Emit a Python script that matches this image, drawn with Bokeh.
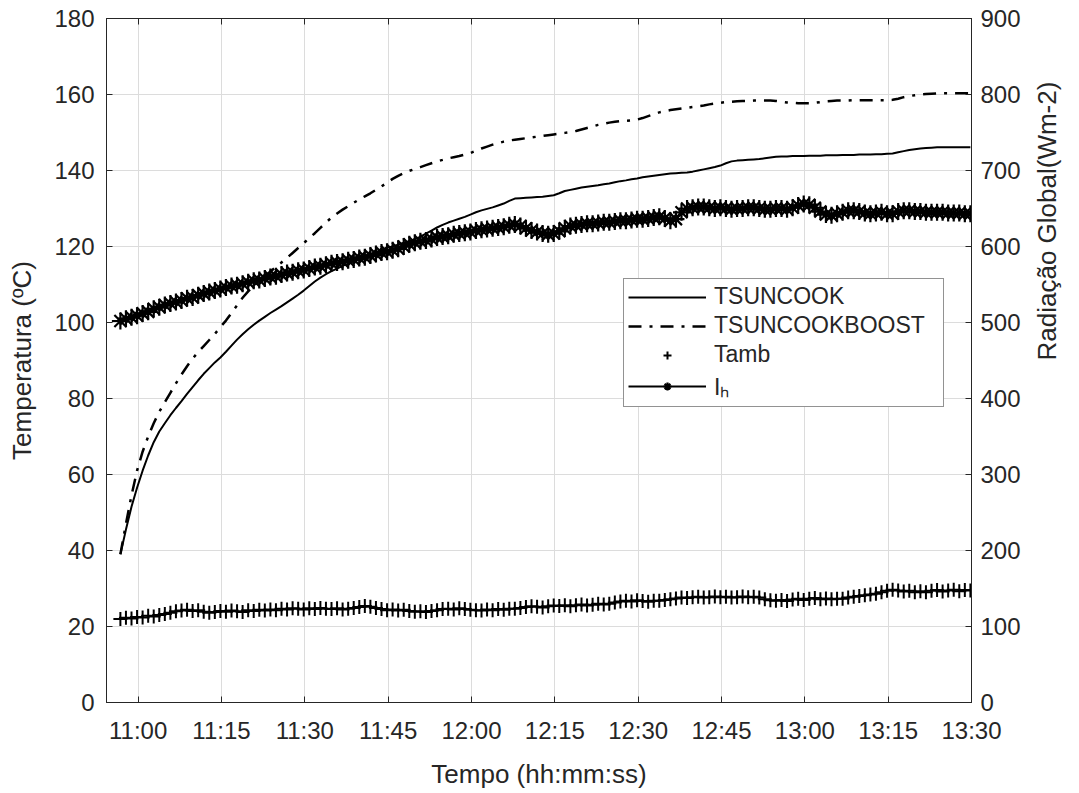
import math
import numpy as np
from bokeh.plotting import figure
from bokeh.models import (LinearAxis, Range1d, FixedTicker, Legend, LegendItem,
                          ColumnDataSource, Grid)
from bokeh.embed import file_html
from bokeh.resources import INLINE

FONT = "Liberation Sans"
TXT = "#262626"

# ---------------- data (one sample per minute) -------------
x_tick_minutes = [660, 675, 690, 705, 720, 735, 750, 765, 780, 795, 810]
x_tick_labels = ["11:00", "11:15", "11:30", "11:45", "12:00", "12:15",
                 "12:30", "12:45", "13:00", "13:15", "13:30"]
y_left_ticks = [0, 20, 40, 60, 80, 100, 120, 140, 160, 180]
y_right_ticks = [0, 100, 200, 300, 400, 500, 600, 700, 800, 900]

start_minute = 656.8   # first sample at 10:56:48 (minutes after midnight)

tsuncook = [
    39.0, 45.5, 51.5, 56.5, 61.0, 65.0, 68.5, 71.3, 73.5, 75.6,
    77.5, 79.3, 81.2, 83.0, 84.8, 86.5, 88.0, 89.5, 90.8, 92.3,
    93.9, 95.5, 96.9, 98.2, 99.4, 100.5, 101.5, 102.5, 103.4, 104.3,
    105.3, 106.3, 107.3, 108.4, 109.6, 110.8, 111.8, 112.7, 113.5, 114.2,
    114.9, 115.5, 116.1, 116.7, 117.3, 117.9, 118.5, 119.1, 119.7, 120.0,
    120.5, 121.0, 121.4, 121.9, 122.6, 123.4, 124.2, 125.0, 125.7, 126.3,
    126.8, 127.3, 127.8, 128.4, 129.0, 129.5, 129.9, 130.3, 130.8, 131.3,
    132.0, 132.6, 132.7, 132.8, 132.9, 133.0, 133.1, 133.3, 133.5, 134.0,
    134.6, 134.9, 135.2, 135.5, 135.7, 135.9, 136.1, 136.4, 136.6, 136.9,
    137.2, 137.4, 137.7, 137.9, 138.2, 138.4, 138.6, 138.8, 139.0, 139.2,
    139.3, 139.4, 139.5, 139.7, 140.0, 140.3, 140.6, 140.9, 141.3, 141.9,
    142.4, 142.6, 142.7, 142.8, 142.9, 143.0, 143.2, 143.4, 143.6, 143.7,
    143.7, 143.8, 143.8, 143.8, 143.9, 143.9, 143.9, 144.0, 144.0, 144.0,
    144.1, 144.1, 144.1, 144.2, 144.2, 144.2, 144.3, 144.3, 144.4, 144.5,
    144.8, 145.1, 145.4, 145.6, 145.8, 145.9, 146.0, 146.1, 146.1, 146.1,
    146.1, 146.1, 146.1, 146.1,
]

tsuncookboost = [
    39.0, 47.0, 54.5, 61.0, 66.0, 70.0, 73.5, 76.5, 79.0, 81.5,
    84.0, 86.3, 88.5, 90.5, 92.2, 93.8, 95.4, 97.0, 98.8, 100.5,
    102.5, 104.5, 106.5, 108.2, 109.6, 110.9, 112.2, 113.4, 114.6, 115.8,
    117.0, 118.3, 119.6, 120.9, 122.2, 123.5, 124.9, 126.3, 127.6, 128.7,
    129.7, 130.6, 131.5, 132.4, 133.2, 134.0, 134.9, 135.8, 136.8, 137.8,
    138.6, 139.3, 139.9, 140.4, 140.9, 141.4, 141.9, 142.4, 142.8, 143.2,
    143.5, 143.8, 144.2, 144.6, 145.2, 145.8, 146.3, 146.8, 147.2, 147.6,
    147.9, 148.1, 148.3, 148.5, 148.7, 148.9, 149.1, 149.3, 149.5, 149.7,
    149.9, 150.1, 150.4, 150.8, 151.2, 151.6, 152.0, 152.3, 152.6, 152.8,
    153.0, 153.1, 153.2, 153.4, 153.8, 154.3, 154.8, 155.3, 155.6, 155.9,
    156.1, 156.3, 156.5, 156.7, 156.9, 157.1, 157.4, 157.6, 157.8, 158.0,
    158.1, 158.2, 158.3, 158.3, 158.4, 158.4, 158.4, 158.4, 158.3, 158.1,
    157.9, 157.8, 157.7, 157.7, 157.7, 157.8, 158.0, 158.2, 158.3, 158.4,
    158.4, 158.4, 158.5, 158.5, 158.5, 158.5, 158.5, 158.5, 158.5, 158.6,
    158.9, 159.3, 159.6, 159.8, 160.0, 160.1, 160.2, 160.3, 160.3, 160.3,
    160.3, 160.3, 160.3, 160.3,
]

tamb = [
    22.0, 22.3, 22.1, 22.5, 22.4, 22.8, 22.6, 23.0, 23.3, 23.6,
    24.0, 24.2, 24.4, 24.1, 24.3, 23.9, 23.6, 23.8, 24.1, 23.9,
    24.2, 24.0, 23.8, 24.3, 24.1, 24.4, 24.2, 24.5, 24.3, 24.7,
    24.5, 24.8, 24.7, 24.5, 24.8, 24.6, 24.9, 24.7, 24.6, 24.8,
    24.5, 24.7, 24.9, 25.1, 25.4, 25.2, 24.9, 24.6, 24.3, 24.5,
    24.2, 24.4, 24.1, 23.9, 24.0, 23.8, 24.1, 24.3, 24.6, 24.7,
    24.5, 24.8, 24.6, 24.4, 24.3, 24.2, 24.5, 24.3, 24.6, 24.4,
    24.7, 24.7, 24.9, 25.1, 25.3, 25.2, 25.0, 25.3, 25.5, 25.4,
    25.6, 25.3, 25.6, 25.8, 25.5, 25.7, 26.0, 25.8, 26.0, 26.3,
    26.6, 26.8, 26.6, 26.9, 26.7, 26.5, 26.8, 26.8, 27.0, 27.2,
    27.4, 27.6, 27.5, 27.7, 27.8, 27.6, 27.7, 27.9, 27.7, 27.8,
    27.6, 27.7, 27.9, 27.7, 27.8, 27.6, 27.2, 26.9, 26.8, 27.0,
    26.7, 27.1, 27.3, 27.0, 27.3, 27.5, 27.2, 27.4, 27.2, 27.3,
    27.3, 27.6, 27.8, 28.0, 28.2, 28.4, 28.6, 29.0, 29.4, 29.7,
    29.5, 29.2, 29.4, 29.0, 29.3, 29.0, 29.4, 29.6, 29.2, 29.5,
    29.7, 29.3, 29.6, 29.5,
]

ih = [
    502, 505, 507, 509, 512, 514, 518, 520, 523, 525,
    527, 529, 532, 533, 536, 538, 540, 542, 544, 546,
    548, 549, 551, 553, 555, 556, 558, 560, 561, 563,
    565, 566, 568, 569, 571, 573, 574, 576, 578, 579,
    580, 582, 583, 585, 586, 588, 590, 592, 593, 595,
    597, 600, 603, 605, 607, 608, 610, 612, 613, 614,
    616, 617, 618, 619, 621, 622, 623, 624, 625, 626,
    628, 629, 627, 624, 621, 619, 617, 616, 617, 620,
    624, 627, 628, 629, 630, 630, 631, 632, 632, 633,
    634, 634, 635, 636, 636, 637, 638, 639, 637, 634,
    636, 645, 650, 651, 652, 652, 651, 650, 651, 650,
    649, 650, 650, 651, 651, 650, 649, 649, 650, 650,
    649, 651, 654, 656, 655, 651, 646, 642, 641, 643,
    645, 647, 647, 646, 644, 643, 644, 645, 643, 643,
    646, 647, 647, 646, 646, 645, 645, 645, 645, 644,
    644, 644, 643, 643,
]

minutes = start_minute + np.arange(len(tsuncook))

src = ColumnDataSource(dict(t=minutes, t1=tsuncook, t2=tsuncookboost,
                            tamb=tamb, ih=ih))

# ---------------- figure -------------
p = figure(width=1079, height=793, output_backend="svg", toolbar_location=None,
           x_range=Range1d(654.3, 810), y_range=Range1d(0, 180),
           x_axis_location=None, y_axis_location=None,
           min_border_left=106, min_border_right=108,
           min_border_top=18, min_border_bottom=91)
# drop the default grids created by figure(); custom ones are added below
p.xgrid.visible = False
p.ygrid.visible = False
p.extra_y_ranges = {"rad": Range1d(0, 900)}
p.background_fill_color = "white"
p.border_fill_color = "white"
p.outline_line_color = TXT
p.outline_line_width = 1


def style_axis(ax, standoff, label_standoff):
    ax.axis_line_color = TXT
    ax.axis_line_width = 1
    ax.major_tick_line_color = TXT
    ax.major_tick_in = 6
    ax.major_tick_out = 0
    ax.minor_tick_line_color = None
    ax.major_label_text_font = FONT
    ax.major_label_text_font_size = "24px"
    ax.major_label_text_color = TXT
    ax.major_label_standoff = standoff
    ax.axis_label_text_font = FONT
    ax.axis_label_text_font_size = "26px"
    ax.axis_label_text_font_style = "normal"
    ax.axis_label_text_color = TXT
    ax.axis_label_standoff = label_standoff


xt = FixedTicker(ticks=x_tick_minutes)
yt = FixedTicker(ticks=y_left_ticks)
rt = FixedTicker(ticks=y_right_ticks)

xaxis = LinearAxis(ticker=xt, axis_label="Tempo (hh:mm:ss)",
                   major_label_overrides={m: l for m, l in zip(x_tick_minutes, x_tick_labels)})
style_axis(xaxis, 14, 12)
p.add_layout(xaxis, "below")

topaxis = LinearAxis(ticker=xt)
style_axis(topaxis, 0, 0)
topaxis.major_label_text_font_size = "0px"
topaxis.major_label_text_alpha = 0
p.add_layout(topaxis, "above")

yaxis = LinearAxis(ticker=yt, axis_label="Temperatura (ºC)")
style_axis(yaxis, 12, 14)
p.add_layout(yaxis, "left")

raxis = LinearAxis(ticker=rt, y_range_name="rad", axis_label="Radiação Global(Wm-2)")
style_axis(raxis, 9, 23)
raxis.axis_label_orientation = math.pi / 2
p.add_layout(raxis, "right")

p.add_layout(Grid(dimension=0, ticker=xt, grid_line_color="#dcdcdc", grid_line_width=1))
p.add_layout(Grid(dimension=1, ticker=yt, grid_line_color="#dcdcdc", grid_line_width=1))

# ---------------- series -------------
r_ihl = p.line("t", "ih", source=src, y_range_name="rad", line_color="black", line_width=2)
r_ihs = p.scatter("t", "ih", source=src, y_range_name="rad", marker="asterisk",
                  size=17, line_color="black", line_width=2.2)
r_tamb = p.scatter("t", "tamb", source=src, marker="cross", size=14,
                   line_color="black", line_width=2)
r_t1 = p.line("t", "t1", source=src, line_color="black", line_width=2)
r_t2 = p.line("t", "t2", source=src, line_color="black", line_width=2.5,
              line_dash="13 8 3 8")

legend = Legend(items=[
    LegendItem(label="TSUNCOOK", renderers=[r_t1]),
    LegendItem(label="TSUNCOOKBOOST", renderers=[r_t2]),
    LegendItem(label="Tamb", renderers=[r_tamb]),
    LegendItem(label="Iₕ", renderers=[r_ihl, r_ihs]),
], location=(517, 295))
legend.label_text_font = FONT
legend.label_text_font_size = "23px"
legend.label_text_color = TXT
legend.glyph_width = 78
legend.glyph_height = 20
legend.label_height = 20
legend.label_width = 225
legend.label_standoff = 8
legend.spacing = 2
legend.padding = 4
legend.margin = 0
legend.border_line_color = TXT
legend.border_line_width = 1
legend.background_fill_color = "white"
legend.background_fill_alpha = 1
p.add_layout(legend, "center")

open("out.html", "w").write(file_html(p, INLINE))
